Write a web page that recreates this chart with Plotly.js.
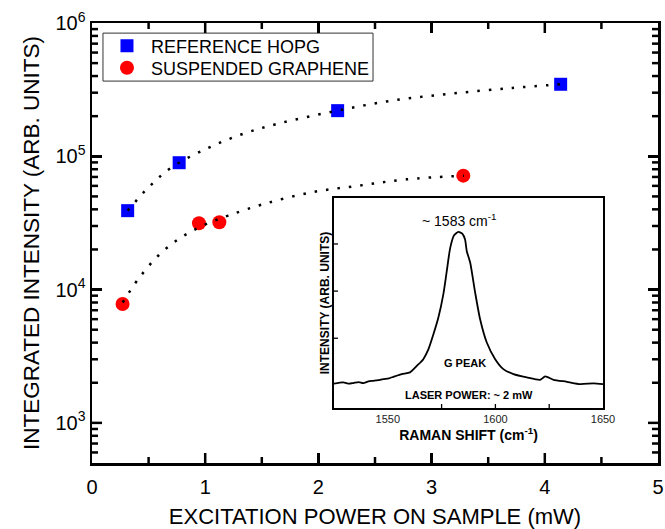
<!DOCTYPE html>
<html>
<head>
<meta charset="utf-8">
<script src="https://cdn.plot.ly/plotly-3.0.1.min.js"></script>
<style>
html,body{margin:0;padding:0;background:#fff;}
#wrap{position:relative;width:665px;height:529px;}
#chart{position:absolute;left:0;top:0;width:665px;height:529px;}
#inset{position:absolute;left:300px;top:190px;width:330px;height:260px;}
</style>
</head>
<body>
<div id="wrap"><div id="chart"></div><div id="inset"></div></div>
<script>
// Main data (excitation power in mW, integrated intensity in arb. units)
const hopgPower = [0.315, 0.77, 2.17, 4.14];
const hopgIntensity = [39100, 89500, 220000, 347000];
const graphenePower = [0.27, 0.945, 1.125, 3.28];
const grapheneIntensity = [7800, 31450, 32000, 71600];

// Dotted guide curves
const hopgFitX = [0.315, 0.506, 0.704, 1.019, 1.331, 1.646, 2.167, 2.686, 3.201, 3.716, 4.14];
const hopgFitY = [39100, 59200, 82700, 114800, 147100, 175800, 220000, 264500, 296800, 325500, 347000];
const grapheneFitX = [0.271, 0.409, 0.589, 0.783, 0.998, 1.204, 1.519, 1.941, 2.362, 2.78, 3.286];
const grapheneFitY = [8000, 12000, 18100, 24500, 30700, 35900, 43900, 53700, 60300, 67200, 71600];

// Inset Raman spectrum (G peak)
const ramanShift = [1525, 1529.3, 1532, 1534.0, 1536.5, 1538.6, 1541, 1543.3, 1545.5, 1547.9, 1550.5, 1552.6, 1556.5, 1560.3, 1563.5, 1566.5, 1568.9, 1571.2, 1573.5, 1575.8, 1577.4, 1579.0, 1580.8, 1582.8, 1584.7, 1585.9, 1586.7, 1588.3, 1590.6, 1592.9, 1596.0, 1599.9, 1603.7, 1608.4, 1614.6, 1620.8, 1623.1, 1627.0, 1633.2, 1639.4, 1645.6, 1650];
const ramanIntensity = [0.038, 0.063, 0.035, 0.049, 0.07, 0.049, 0.085, 0.097, 0.11, 0.133, 0.15, 0.182, 0.239, 0.275, 0.414, 0.556, 0.767, 1.084, 1.438, 1.930, 2.423, 2.917, 3.184, 3.256, 3.213, 3.093, 2.846, 2.600, 1.966, 1.402, 0.909, 0.556, 0.345, 0.239, 0.169, 0.118, 0.190, 0.118, 0.076, 0.027, 0.042, 0.027];

// Tick values
const xTickVals = [0, 1, 2, 3, 4, 5];
const xMinorVals = [0.5, 1.5, 2.5, 3.5, 4.5];
const yTickVals = [1e3, 1e4, 1e5, 1e6];
const yTickText = ['10<sup>3</sup>', '10<sup>4</sup>', '10<sup>5</sup>', '10<sup>6</sup>'];
const insetTickVals = [1550, 1600, 1650];
const insetAllTicks = [1550, 1575, 1600, 1625];
const insetYTicks = [1, 2, 3];

const FONT = 'Liberation Sans, Arial, Helvetica, sans-serif';
const X_RANGE = [0, 5];
const Y_RANGE = [2.699, 6];
const MARGIN = {l: 92, r: 7, t: 23, b: 66};

const traces = [
  {
    x: hopgPower, y: hopgIntensity, type: 'scatter', mode: 'markers',
    name: 'REFERENCE HOPG', legend: 'legend',
    marker: {symbol: 'square', size: 13, color: '#0000ff'}
  },
  {
    x: graphenePower, y: grapheneIntensity, type: 'scatter', mode: 'markers',
    name: 'SUSPENDED GRAPHENE', legend: 'legend2',
    marker: {symbol: 'circle', size: 14, color: '#ff0000'}
  },
  {
    x: hopgFitX, y: hopgFitY, type: 'scatter', mode: 'lines', showlegend: false,
    line: {color: '#000', width: 2.5, dash: '2.5px,9px', shape: 'spline'}
  },
  {
    x: grapheneFitX, y: grapheneFitY, type: 'scatter', mode: 'lines', showlegend: false,
    line: {color: '#000', width: 2.5, dash: '2.5px,9px', shape: 'spline'}
  }
];

// Tick marks as shapes (inside, mirrored on all four sides)
const tickShapes = [];
function xTick(v, len) {
  tickShapes.push({type: 'line', xref: 'x', yref: 'paper', ysizemode: 'pixel', yanchor: 0,
    x0: v, x1: v, y0: 0, y1: len, line: {color: '#000', width: 2.5}});
  tickShapes.push({type: 'line', xref: 'x', yref: 'paper', ysizemode: 'pixel', yanchor: 1,
    x0: v, x1: v, y0: 0, y1: -len, line: {color: '#000', width: 2.5}});
}
function yTick(v, len) {
  const p = (Math.log10(v) - Y_RANGE[0]) / (Y_RANGE[1] - Y_RANGE[0]);
  tickShapes.push({type: 'line', xref: 'paper', yref: 'paper', xsizemode: 'pixel', xanchor: 0,
    x0: 0, x1: len, y0: p, y1: p, line: {color: '#000', width: 2.5}});
  tickShapes.push({type: 'line', xref: 'paper', yref: 'paper', xsizemode: 'pixel', xanchor: 1,
    x0: 0, x1: -len, y0: p, y1: p, line: {color: '#000', width: 2.5}});
}
xTickVals.slice(1, -1).forEach(v => xTick(v, 10));
xMinorVals.forEach(v => xTick(v, 6));
yTickVals.slice(0, -1).forEach(v => yTick(v, 10));
for (let e = 2; e <= 5; e++) {
  for (let d = 2; d <= 9; d++) {
    const v = d * Math.pow(10, e);
    if (Math.log10(v) > Y_RANGE[0] && Math.log10(v) < Y_RANGE[1]) yTick(v, 6);
  }
}

const legendCommon = {
  xanchor: 'left', yanchor: 'middle', borderwidth: 0, bgcolor: 'rgba(0,0,0,0)',
  font: {family: FONT, size: 18, color: '#000'}, itemwidth: 38
};

const layout = {
  width: 665, height: 529,
  margin: MARGIN,
  font: {family: FONT, color: '#000'},
  showlegend: true,
  legend: Object.assign({x: 0.0194, y: 0.9477}, legendCommon),
  legend2: Object.assign({x: 0.0194, y: 0.8977}, legendCommon),
  shapes: [
    {type: 'rect', xref: 'paper', yref: 'paper', x0: 0.0194, x1: 0.4965, y0: 0.868, y1: 0.977,
     line: {color: '#333', width: 1}}
  ].concat(tickShapes),
  xaxis: {
    range: X_RANGE, tickvals: xTickVals, ticks: 'inside', ticklen: 10, tickwidth: 2.5, tickcolor: '#000',
    ticklabelstandoff: 4,
    showline: true, linewidth: 2.5, linecolor: '#000', mirror: 'ticks',
    showgrid: false, zeroline: false,
    tickfont: {family: FONT, size: 20, color: '#000'},
    title: {text: 'EXCITATION POWER ON SAMPLE (mW)', font: {family: FONT, size: 22, color: '#000'}, standoff: 12}
  },
  yaxis: {
    type: 'log', range: Y_RANGE,
    tickmode: 'array', tickvals: yTickVals, ticktext: yTickText,
    ticks: 'inside', ticklen: 10, tickwidth: 2.5, tickcolor: '#000',
    showline: true, linewidth: 2.5, linecolor: '#000', mirror: 'ticks',
    showgrid: false, zeroline: false,
    tickfont: {family: FONT, size: 20, color: '#000'},
    title: {text: 'INTEGRATED INTENSITY (ARB. UNITS)', font: {family: FONT, size: 22.5, color: '#000'}, standoff: 10}
  }
};

Plotly.newPlot('chart', traces, layout, {staticPlot: true, displayModeBar: false});

// Inset
const insetTraces = [
  {
    x: ramanShift, y: ramanIntensity, type: 'scatter', mode: 'lines', showlegend: false,
    line: {color: '#000', width: 1.8, shape: 'spline', smoothing: 0.6}
  }
];

const insetShapes = [];
insetAllTicks.slice(1).forEach(v => insetShapes.push({type: 'line', xref: 'x', yref: 'paper', ysizemode: 'pixel', yanchor: 0,
  x0: v, x1: v, y0: 0, y1: 4, line: {color: '#000', width: 1.3}}));
insetYTicks.forEach(v => insetShapes.push({type: 'line', xref: 'paper', yref: 'y', xsizemode: 'pixel', xanchor: 0,
  x0: 0, x1: 4, y0: v, y1: v, line: {color: '#000', width: 1.3}}));

const insetLayout = {
  width: 330, height: 260,
  margin: {l: 34, r: 27.3, t: 8.3, b: 41.5},
  paper_bgcolor: 'rgba(0,0,0,0)', plot_bgcolor: '#fff',
  font: {family: FONT, color: '#000'},
  showlegend: false,
  shapes: insetShapes,
  xaxis: {
    range: [1525, 1650], tickmode: 'array', tickvals: insetTickVals, ticks: '',
    showline: true, linewidth: 1.8, linecolor: '#000', mirror: true,
    showgrid: false, zeroline: false,
    tickfont: {family: FONT, size: 11, color: '#222'},
    title: {text: 'RAMAN SHIFT (cm<sup>-1</sup>)', font: {family: FONT, size: 14, color: '#000', weight: 'bold'}, standoff: 6}
  },
  yaxis: {
    range: [-0.48, 3.975], tickmode: 'array', tickvals: insetYTicks, showticklabels: false, ticks: '',
    showline: true, linewidth: 1.8, linecolor: '#000', mirror: true,
    showgrid: false, zeroline: false,
    title: {text: 'INTENSITY (ARB. UNITS)', font: {family: FONT, size: 12, color: '#000', weight: 'bold'}, standoff: 0}
  },
  annotations: [
    {x: 1583, y: 3.28, yanchor: 'bottom', xanchor: 'center', showarrow: false,
     text: '~ 1583 cm<sup>-1</sup>', font: {family: FONT, size: 14, color: '#000'}},
    {x: 1586, y: 0.48, yanchor: 'middle', xanchor: 'center', showarrow: false,
     text: 'G PEAK', font: {family: FONT, size: 11, color: '#000', weight: 'bold'}},
    {x: 1587.5, y: -0.21, yanchor: 'middle', xanchor: 'center', showarrow: false,
     text: 'LASER POWER: ~ 2 mW', font: {family: FONT, size: 11, color: '#000', weight: 'bold'}}
  ]
};

Plotly.newPlot('inset', insetTraces, insetLayout, {staticPlot: true, displayModeBar: false});
</script>
</body>
</html>
